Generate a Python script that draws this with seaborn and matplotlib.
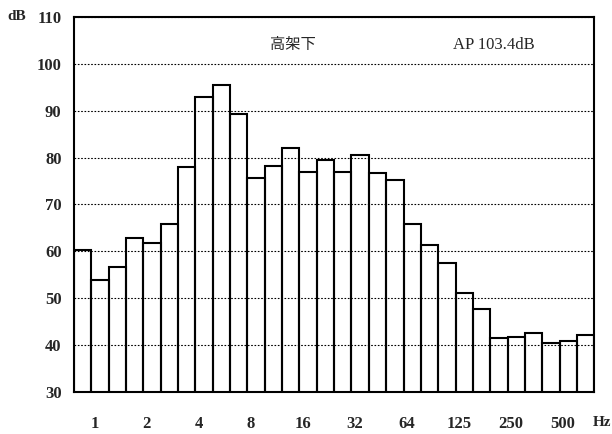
import matplotlib
matplotlib.use('Agg')
import matplotlib.pyplot as plt
import seaborn as sns
import pandas as pd

# 1/3オクターブバンド中心周波数 (Hz) と音圧レベル (dB)
bands = ['0.8', '1', '1.25', '1.6', '2', '2.5', '3.15', '4', '5', '6.3',
         '8', '10', '12.5', '16', '20', '25', '31.5', '40', '50', '63',
         '80', '100', '125', '160', '200', '250', '315', '400', '500', '630']
levels = [60.3, 53.9, 56.7, 62.9, 61.8, 65.8, 78.0, 93.0, 95.5, 89.3,
          75.6, 78.3, 82.0, 77.0, 79.5, 76.9, 80.5, 76.6, 75.2, 65.8,
          61.3, 57.6, 51.0, 47.6, 41.5, 41.8, 42.6, 40.5, 40.8, 42.2]
tick_labels = ['1', '2', '4', '8', '16', '32', '64', '125', '250', '500']
y_ticks = [30, 40, 50, 60, 70, 80, 90, 100, 110]

title = '高架下'
ap_text = 'AP 103.4dB'

sns.set_style('white')
plt.rcParams['font.family'] = ['Liberation Serif', 'Noto Sans CJK JP']

df = pd.DataFrame({'band': bands, 'level': levels})

fig = plt.figure(figsize=(6.12, 4.34), dpi=100)
ax = fig.add_axes([0.121, 0.097, 0.850, 0.864])

sns.barplot(data=df, x='band', y='level', order=bands, width=1.0,
            fill=False, color='black', linewidth=1.5, ax=ax, zorder=3)

ax.set_ylim(30, 110)
ax.set_xlim(-0.5, len(bands) - 0.5)
ax.set_yticks(y_ticks)
ax.set_yticklabels([str(v) for v in y_ticks], fontsize=12, fontweight='bold')

# 1, 2, 4 ... は 1Hz のバンドから 3 本おき
pos = [bands.index('1') + 3 * i - 0.3 for i in range(len(tick_labels))]
ax.set_xticks(pos)
ax.set_xticklabels(tick_labels, fontsize=12, fontweight='bold')
ax.tick_params(axis='x', length=0, pad=17)
ax.tick_params(axis='y', length=0, pad=9)
ax.set_xlabel('')
ax.set_ylabel('')

ax.yaxis.grid(True, linestyle=(0, (1.5, 1.5)), color='black', linewidth=0.8)
ax.set_axisbelow(True)
for s in ax.spines.values():
    s.set_color('black')
    s.set_linewidth(1.5)

ax.text(12.1, 104, title, ha='center', va='center', fontsize=11)
ax.text(23.7, 104, ap_text, ha='center', va='center', fontsize=12)
fig.text(7 / 612, 1 - 17 / 434, 'dB', ha='left', va='center', fontsize=11,
         fontweight='bold')
fig.text(611 / 612, 1 - 423 / 434, 'Hz', ha='right', va='center', fontsize=11,
         fontweight='bold')

fig.savefig('out.png', dpi=100, facecolor='white')
